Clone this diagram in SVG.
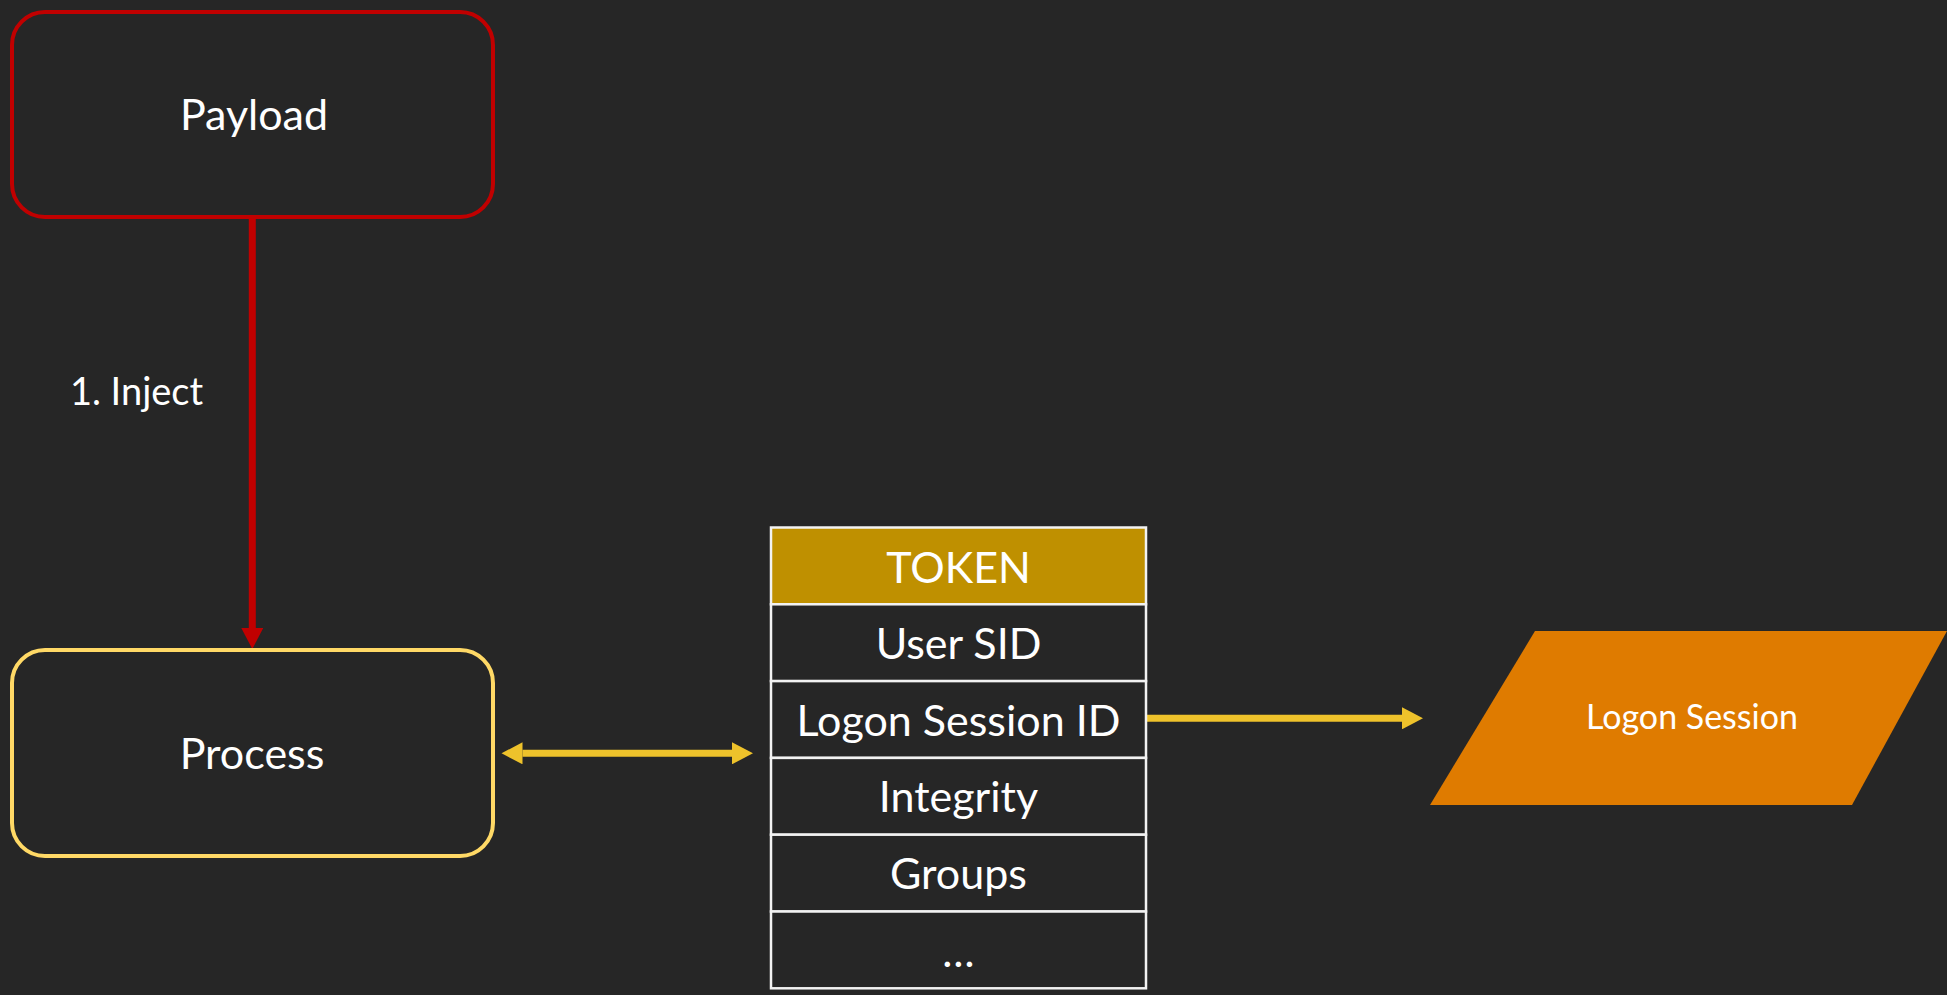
<svg xmlns="http://www.w3.org/2000/svg" width="1947" height="995" viewBox="0 0 1947 995">
  <style>
    .bg { fill: #262626; }
    .box { fill: #262626; stroke-width: 4; }
    .lbl { font-family: Lato, "Liberation Sans", sans-serif; fill: #FFFFFF; text-anchor: middle; }
    .big { font-size: 43px; }
    .note { font-size: 38px; }
    .mid { font-size: 34px; }
    .cell { fill: #262626; stroke: #F2F2F2; stroke-width: 2.5; }
    .head { fill: #BF9000; stroke: #F2F2F2; stroke-width: 2.5; }
    .red { stroke: #C00000; stroke-width: 7; fill: none; }
    .gold { stroke: #EEC22B; stroke-width: 7; fill: none; }
  </style>
  <defs>
    <marker id="headRed" markerUnits="userSpaceOnUse" markerWidth="22" markerHeight="22" refX="0" refY="11" orient="auto" viewBox="0 0 22 22">
      <path d="M0,0 L21,11 L0,22 z" fill="#C00000"/>
    </marker>
    <marker id="headGold" markerUnits="userSpaceOnUse" markerWidth="22" markerHeight="22" refX="0" refY="11" orient="auto-start-reverse" viewBox="0 0 22 22">
      <path d="M0,0 L21,11 L0,22 z" fill="#EEC22B"/>
    </marker>
  </defs>

  <rect class="bg" x="0" y="0" width="1947" height="995"/>

  <g id="connectors">
    <line id="inject" class="red" x1="252.3" y1="218" x2="252.3" y2="628" marker-end="url(#headRed)"/>
    <line id="process-token" class="gold" x1="522.5" y1="753.3" x2="732" y2="753.3" marker-start="url(#headGold)" marker-end="url(#headGold)"/>
    <line id="token-session" class="gold" x1="1147" y1="718.3" x2="1402" y2="718.3" marker-end="url(#headGold)"/>
  </g>

  <g id="inject-label">
    <text class="lbl note" x="136.5" y="405">1. Inject</text>
  </g>

  <g id="payload">
    <rect class="box" x="12" y="12" width="481" height="205" rx="33" ry="33" stroke="#C00000"/>
    <text class="lbl big" x="254" y="130">Payload</text>
  </g>

  <g id="process">
    <rect class="box" x="12" y="650" width="481" height="206" rx="33" ry="33" stroke="#FFD966"/>
    <text class="lbl big" x="252" y="769">Process</text>
  </g>

  <g id="token">
    <rect class="head" x="771" y="527.5" width="375" height="76.8"/>
    <rect class="cell" x="771" y="604.3" width="375" height="76.8"/>
    <rect class="cell" x="771" y="681.1" width="375" height="76.8"/>
    <rect class="cell" x="771" y="757.9" width="375" height="76.8"/>
    <rect class="cell" x="771" y="834.7" width="375" height="76.8"/>
    <rect class="cell" x="771" y="911.5" width="375" height="76.8"/>
    <text class="lbl big" x="958.5" y="583.3">TOKEN</text>
    <text class="lbl big" x="958.5" y="659">User SID</text>
    <text class="lbl big" x="958.5" y="735.7">Logon Session ID</text>
    <text class="lbl big" x="958.5" y="812.3">Integrity</text>
    <text class="lbl big" x="958.5" y="889">Groups</text>
    <text class="lbl big" x="958.5" y="966.7">…</text>
  </g>

  <g id="logon-session">
    <polygon points="1535,631 1947,631 1852,805 1430,805" fill="#DF7B00"/>
    <text class="lbl mid" x="1692" y="729">Logon Session</text>
  </g>
</svg>
